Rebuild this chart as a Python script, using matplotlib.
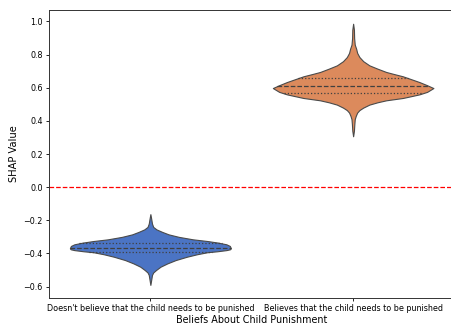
"""Violin plot of SHAP values split by beliefs about child punishment."""

import matplotlib
matplotlib.use("Agg")
import matplotlib.pyplot as plt
import numpy as np

categories = [
    "Doesn't believe that the child needs to be punished",
    "Believes that the child needs to be punished",
]

# density outline of each violin: SHAP value and half width (category units)
no_punish_shap = [-0.163, -0.19, -0.22, -0.24, -0.255, -0.27, -0.285, -0.30, -0.315,
                  -0.325, -0.335, -0.345, -0.355, -0.369, -0.375, -0.380, -0.387,
                  -0.393, -0.405, -0.42, -0.44, -0.46, -0.48, -0.50, -0.515, -0.53,
                  -0.56, -0.59]
no_punish_width = [0.0, 0.004, 0.008, 0.014, 0.03, 0.058, 0.09, 0.14, 0.21,
                   0.28, 0.335, 0.375, 0.392, 0.397, 0.393, 0.375, 0.33,
                   0.28, 0.23, 0.18, 0.125, 0.084, 0.05, 0.028, 0.014, 0.008,
                   0.004, 0.0]

punish_shap = [0.307, 0.34, 0.38, 0.41, 0.43, 0.45, 0.465, 0.48, 0.498, 0.512,
               0.524, 0.538, 0.55, 0.56, 0.575, 0.598, 0.615, 0.634, 0.652, 0.669,
               0.683, 0.695, 0.715, 0.735, 0.76, 0.785, 0.81, 0.835, 0.86, 0.90,
               0.95, 0.986]
punish_width = [0.0, 0.004, 0.006, 0.008, 0.013, 0.02, 0.031, 0.05, 0.08, 0.12,
                0.163, 0.245, 0.29, 0.327, 0.365, 0.396, 0.365, 0.327, 0.285, 0.245,
                0.2, 0.163, 0.12, 0.08, 0.05, 0.031, 0.02, 0.015, 0.008, 0.005,
                0.004, 0.0]

# first quartile, median, third quartile
no_punish_quartiles = [-0.390, -0.368, -0.339]
punish_quartiles = [0.566, 0.610, 0.658]

colors = ["#4b74c4", "#dc8a5c"]
line_color = "#4a4a4a"


def draw_violin(ax, pos, shap, width, quartiles, color):
    order = np.argsort(shap)
    shap = np.asarray(shap)[order]
    width = np.asarray(width)[order]
    ax.fill_betweenx(shap, pos - width, pos + width, facecolor=color,
                     edgecolor=line_color, linewidth=0.8, zorder=2)
    styles = [":", "--", ":"]
    for q, ls in zip(quartiles, styles):
        half = np.interp(q, shap, width)
        ax.plot([pos - half, pos + half], [q, q], color="#404040",
                linestyle=ls, linewidth=0.9, zorder=3)


def main() -> None:
    fig = plt.figure(figsize=(4.51, 3.24), dpi=100)
    ax = fig.add_axes([49 / 451, 26 / 324, 405.5 / 451, 288 / 324])

    draw_violin(ax, 0, no_punish_shap, no_punish_width, no_punish_quartiles, colors[0])
    draw_violin(ax, 1, punish_shap, punish_width, punish_quartiles, colors[1])

    ax.axhline(0, color="red", linestyle="--", linewidth=0.9, zorder=1)

    ax.set_xlim(-0.5, 1.5)
    ax.set_ylim(-0.669, 1.069)
    ax.set_xticks([0, 1])
    ax.set_xticklabels(categories)
    ax.set_yticks(np.arange(-0.6, 1.01, 0.2))
    ax.tick_params(labelsize=5.8, length=2.5, width=0.6, pad=2)
    for spine in ax.spines.values():
        spine.set_linewidth(0.7)
        spine.set_color("#333333")
    ax.set_xlabel("Beliefs About Child Punishment", fontsize=6.9, labelpad=1)
    ax.set_ylabel("SHAP Value", fontsize=7.1, labelpad=3)

    fig.savefig("out.png", dpi=100)
    plt.close(fig)


if __name__ == "__main__":
    main()
